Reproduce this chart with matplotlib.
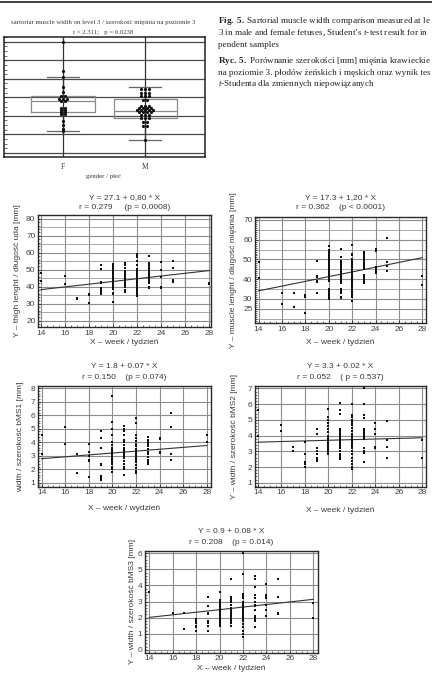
import numpy as np
import matplotlib
matplotlib.use("Agg")
import matplotlib.pyplot as plt
from matplotlib.ticker import MultipleLocator
from matplotlib.lines import Line2D

# ---------------- data ----------------
weeks = [14, 16, 17, 18, 19, 20, 21, 22, 23, 24, 25, 28]

thigh_by_week = [
    [48, 43.5],
    [46.5, 41.5],
    [33.5, 33, 32.5],
    [36, 35.5, 35, 30.5],
    [53, 50.5, 43, 42, 39, 38, 37, 36],
    [53.5, 52.5, 51.5, 50.5, 49.5, 48.5, 47.5, 46.5, 45.5, 44.5, 43.5, 42.5, 41.5, 40.5, 39.5, 38.5, 36.5, 35.5, 31],
    [54, 52.5, 51, 49.5, 48, 47, 46, 45, 44, 43, 42.5, 42, 41, 40, 38, 37],
    [59.5, 58.5, 57.5, 55, 52.5, 50.5, 49.5, 48.5, 47.5, 46.5, 45.5, 44.5, 43.5, 42.5, 41.5, 40.5, 39.5, 38.5, 37.5, 36.5, 35.5, 34.5],
    [58, 54, 53, 52, 51, 50, 49, 48, 47, 46, 45, 44, 43, 42, 40, 39],
    [54.5, 50, 45.5, 40, 39],
    [55, 51, 44, 43],
    [42, 41.5],
]
muscle_by_week = [
    [48.5, 40.5],
    [33, 27.5],
    [33, 26],
    [32, 31.5, 31, 23],
    [49, 41.5, 41, 39, 38.5, 33],
    [57, 55, 54, 53, 52, 51, 50, 49, 48, 47, 46, 45, 44, 43, 42, 41, 40, 39, 35, 34, 33, 32, 31, 30],
    [55.5, 51, 49, 48, 47, 46, 45, 44, 43, 42, 41, 40, 39, 38, 35, 34, 33, 31, 30.5],
    [57.5, 53, 52, 50, 49, 48, 47, 46, 45, 44, 43, 42, 41, 40, 39, 38, 37, 36, 35, 34, 33, 32, 31, 29],
    [54, 53, 52, 51, 50, 49, 48, 47, 46, 45, 42, 41, 40, 39, 38],
    [55.5, 55, 54.5, 46, 45, 44, 43],
    [61, 48.5, 46.5, 44],
    [41.5, 37],
]
bms1_by_week = [
    [4.5, 3.1],
    [5.1, 3.9],
    [3.1, 1.7],
    [3.9, 3.3, 3.0, 2.7, 2.6, 1.4],
    [4.8, 4.3, 3.6, 2.4, 2.3, 1.5, 1.4, 1.3, 1.2],
    [7.4, 5.5, 5.0, 4.5, 4.0, 3.8, 3.6, 3.4, 3.3, 3.2, 3.1, 3.0, 2.9, 2.8, 2.7, 2.6, 2.5, 2.4, 2.2, 2.0, 1.8],
    [5.2, 5.0, 4.8, 4.5, 4.2, 4.0, 3.8, 3.6, 3.4, 3.3, 3.2, 3.1, 3.0, 2.9, 2.8, 2.6, 2.4, 2.2, 2.0, 1.6],
    [5.8, 5.4, 4.5, 4.3, 4.1, 3.9, 3.7, 3.5, 3.4, 3.3, 3.2, 3.1, 3.0, 2.9, 2.8, 2.7, 2.6, 2.5, 2.3, 2.1, 1.9, 1.7],
    [4.4, 4.2, 4.0, 3.9, 3.7, 3.5, 3.3, 3.1, 2.9, 2.7, 2.5, 2.4],
    [4.35, 4.25, 3.3, 3.2],
    [6.2, 5.1, 3.1, 2.7],
    [4.5, 4.0],
]
bms2_by_week = [
    [5.6, 4.0],
    [4.7, 4.3],
    [3.3, 3.0],
    [3.6, 2.8, 2.3, 2.2, 2.0],
    [4.4, 4.1, 3.2, 3.0, 2.8, 2.6, 2.5, 2.4],
    [5.7, 5.2, 5.0, 4.8, 4.6, 4.4, 4.2, 4.0, 3.9, 3.8, 3.7, 3.6, 3.5, 3.4, 3.3, 3.2, 3.1, 3.0, 2.9, 2.8],
    [6.1, 5.6, 5.4, 4.4, 4.3, 4.2, 4.1, 4.0, 3.9, 3.8, 3.7, 3.6, 3.5, 3.4, 3.3, 3.2, 3.0, 2.8, 2.7, 2.6, 2.5],
    [6.0, 5.3, 5.2, 5.0, 4.9, 4.8, 4.7, 4.5, 4.3, 4.1, 4.0, 3.9, 3.8, 3.7, 3.6, 3.5, 3.4, 3.3, 3.2, 3.0, 2.8, 2.6, 2.4, 2.2, 2.0, 1.9],
    [7.0, 6.0, 5.3, 5.1, 4.4, 4.3, 4.2, 4.1, 4.0, 3.9, 3.8, 3.2, 3.0, 2.9, 2.3],
    [4.8, 4.4, 4.1, 3.3, 3.2],
    [4.9, 3.7, 3.3, 2.6],
    [3.7, 2.6],
]
bms3_by_week = [
    [3.6],
    [2.3],
    [2.3, 1.3],
    [1.9, 1.8, 1.7, 1.5, 1.4, 1.2],
    [3.3, 2.7, 2.3, 2.2, 1.8, 1.7, 1.5, 1.2],
    [3.6, 3.1, 3.0, 2.9, 2.8, 2.7, 2.6, 2.5, 2.4, 2.3, 2.2, 2.1, 2.0, 1.9, 1.8, 1.7, 1.6, 1.5],
    [4.4, 3.3, 3.2, 3.1, 3.0, 2.8, 2.6, 2.5, 2.4, 2.3, 2.2, 2.1, 2.0, 1.9, 1.8, 1.7, 1.5],
    [6.0, 4.7, 3.5, 3.4, 3.3, 3.2, 3.0, 2.9, 2.8, 2.7, 2.6, 2.5, 2.4, 2.3, 2.2, 2.1, 2.0, 1.9, 1.8, 1.6, 1.4, 1.2, 1.0, 0.8],
    [4.6, 4.4, 3.9, 3.4, 3.2, 3.0, 2.8, 2.7, 2.5, 2.1, 2.0, 1.9, 1.8, 1.4],
    [4.1, 3.4, 3.3, 3.2, 2.8, 2.5, 2.1],
    [4.4, 3.3, 2.3, 2.2],
    [2.9, 2.0],
]

# regression coefficients (intercept, slope) as printed
reg_thigh = (27.1, 0.80)
reg_muscle = (17.3, 1.20)
reg_bms1 = (1.8, 0.07)
reg_bms2 = (3.3, 0.02)
reg_bms3 = (0.9, 0.08)

titles_thigh = ["Y = 27.1 + 0,80 * X", "r = 0.279     (p = 0.0008)"]
titles_muscle = ["Y = 17.3 + 1,20 * X", "r = 0.362    (p < 0.0001)"]
titles_bms1 = ["Y = 1.8 + 0.07 * X", "r = 0.150    (p = 0.074)"]
titles_bms2 = ["Y = 3.3 + 0.02 * X", "r = 0.052    ( p = 0.537)"]
titles_bms3 = ["Y = 0.9 + 0.08 * X", "r = 0.208    (p = 0.014)"]

# boxplot panel (gender)
gender_labels = ["F", "M"]
F_vals = [7.0, 5.4, 5.1, 4.55, 4.3, 4.05, 3.92, 3.78, 3.42, 3.3, 3.2, 3.1, 2.7, 2.5, 2.3, 2.15]
F_counts = [1, 1, 1, 1, 1, 2, 3, 2, 2, 2, 2, 2, 1, 1, 1, 1]
M_vals = [4.45, 4.25, 4.05, 3.85, 3.55, 3.42, 3.3, 3.18, 3.05, 2.88, 2.65, 2.45, 1.67]
M_counts = [3, 3, 3, 2, 3, 4, 5, 4, 3, 3, 2, 2, 1]
F_box = dict(q1=3.2, med=3.81, q3=4.06, whislo=2.2, whishi=5.1)
M_box = dict(q1=2.87, med=3.27, q3=3.88, whislo=1.67, whishi=4.57)

# caption lines (the page crop cuts them at the right edge)
cap_lines = [
    r"$\mathbf{Fig.\ 5.}$ Sartorial muscle width comparison measured at level",
    r"3 in male and female fetuses, Student’s $t$-test result for inde-",
    "pendent samples",
    r"$\mathbf{Ryc.\ 5.}$ Porównanie szerokości [mm] mięśnia krawieckiego",
    "na poziomie 3. płodów żeńskich i męskich oraz wynik testu",
    r"$t$-Studenta dla zmiennych niepowiązanych",
]

# ---------------- figure ----------------
W, H = 432, 673
plt.rcParams["mathtext.fontset"] = "custom"
plt.rcParams["mathtext.rm"] = "Liberation Serif"
plt.rcParams["mathtext.it"] = "Liberation Serif:italic"
plt.rcParams["mathtext.bf"] = "Liberation Serif:bold"
SANS = ["Liberation Sans", "DejaVu Sans"]
SERIF = ["Liberation Serif", "DejaVu Serif"]
TXT = "#3a3a3a"

fig = plt.figure(figsize=(W / 100, H / 100), dpi=100)
renderer = fig.canvas.get_renderer()


def px_axes(x0, y0, x1, y1):
    return fig.add_axes([x0 / W, 1 - y1 / H, (x1 - x0) / W, (y1 - y0) / H])


def ftext(x, y, s, **kw):
    return fig.text(x / W, 1 - y / H, s, **kw)


# page rule
fig.add_artist(Line2D([0, 1], [1 - 2 / H] * 2, color="#333333", lw=1.3))

# ---------------- caption ----------------
cap_y = [20.7, 32.7, 44.0, 60.3, 72.0, 83.7]
for y, s in zip(cap_y, cap_lines):
    t = ftext(218, y + 2.6, s, family=SERIF, fontsize=6.6, color="#222222", va="baseline", ha="left")
    # the reference page is cropped at the right edge: keep only what fits
    while t.get_window_extent(renderer).x1 > W - 0.5 and not s.endswith("$"):
        s = s[:-1].rstrip()
        t.set_text(s)

# ---------------- boxplot panel ----------------
axb = px_axes(4, 37, 205, 157)
axb.set_xlim(0.28, 2.73)
axb.set_ylim(0.77, 7.26)
for v in range(1, 8):
    axb.axhline(v, color="#4a4a4a", lw=0.9, zorder=1)
for xpos in (1, 2):
    axb.axvline(xpos, color="#333333", lw=0.9, zorder=1)
stats = []
for lab, b in zip(gender_labels, (F_box, M_box)):
    d = dict(b)
    d["label"] = lab
    d["fliers"] = []
    stats.append(d)
axb.bxp(stats, positions=[1, 2], widths=0.77, capwidths=0.39, showfliers=False,
        boxprops=dict(color="#8a8a8a", lw=0.9), medianprops=dict(color="#8a8a8a", lw=0.9),
        whiskerprops=dict(color="#333333", lw=0.9), capprops=dict(color="#666666", lw=0.9),
        manage_ticks=False, zorder=2)
for xpos, vals, counts in ((1, F_vals, F_counts), (2, M_vals, M_counts)):
    for v, n in zip(vals, counts):
        offs = (np.arange(n) - (n - 1) / 2) * 0.05
        axb.plot(xpos + offs, [v] * n, "o", ms=2.3, color="#111111", mew=0, zorder=3)
axb.set_xticks([1, 2])
axb.set_xticklabels(gender_labels, family=SERIF, fontsize=5.5, color=TXT)
axb.tick_params(axis="x", length=0, pad=4)
axb.yaxis.set_major_locator(MultipleLocator(1))
axb.yaxis.set_minor_locator(MultipleLocator(0.25))
axb.tick_params(axis="y", which="both", direction="in", left=True, labelleft=False, color="#333333")
axb.tick_params(axis="y", which="major", length=2.5, width=0.6)
axb.tick_params(axis="y", which="minor", length=2.0, width=0.5)
for sp in axb.spines.values():
    sp.set_color("#222222")
    sp.set_linewidth(1.1)
ftext(103, 22.7, "sartoriar muscle width on level 3 / szerokość mięśnia na poziomie 3",
      family=SERIF, fontsize=4.9, color=TXT, ha="center", va="center")
ftext(103, 32.3, "t = 2.311;   p = 0.0238", family=SERIF, fontsize=4.9, color=TXT, ha="center", va="center")
ftext(103, 176.5, "gender / płeć", family=SERIF, fontsize=4.9, color=TXT, ha="center", va="center")


# ---------------- scatter panels ----------------
def scatter_panel(box, groups, reg, titles, ylabel, xlabel, ylim, yticks, yminor,
                  xlim, ylab_x, title_y, xlab_y, grid5=None):
    x0, y0, x1, y1 = box
    ax = px_axes(x0, y0, x1, y1)
    xs = np.concatenate([[w] * len(g) for w, g in zip(weeks, groups)])
    ys = np.concatenate([np.asarray(g, float) for g in groups])
    ax.plot(xs, ys, "s", ms=1.45, color="#111111", mew=0, zorder=3)
    xx = np.array([min(weeks), max(weeks)], float)
    ax.plot(xx, reg[0] + reg[1] * xx, color="#333333", lw=0.8, zorder=2)
    ax.set_xlim(*xlim)
    ax.set_ylim(*ylim)
    ax.set_xticks(range(14, 29, 2))
    ax.set_yticks(yticks)
    ax.xaxis.set_minor_locator(MultipleLocator(0.5))
    ax.yaxis.set_minor_locator(MultipleLocator(yminor))
    ax.grid(True, which="major", color="#8c8c8c", lw=0.8, zorder=0)
    if grid5 is not None:
        lo, hi = ylim
        for v in np.arange(np.ceil(lo / grid5) * grid5, hi, grid5):
            ax.axhline(v, color="#a8a8a8", lw=0.7, zorder=0)
    ax.set_axisbelow(True)
    ax.tick_params(which="both", direction="in", top=False, right=False, color="#333333")
    ax.tick_params(which="major", length=2.5, width=0.6, labelsize=6, labelcolor="#444444", pad=1.8)
    ax.tick_params(which="minor", length=1.5, width=0.5)
    for lab in ax.get_xticklabels() + ax.get_yticklabels():
        lab.set_family(SANS)
    for sp in ax.spines.values():
        sp.set_color("#2a2a2a")
        sp.set_linewidth(1.0)
    cx = (x0 + x1) / 2
    ftext(cx, title_y[0], titles[0], family=SANS, fontsize=6, color=TXT, ha="center", va="center")
    ftext(cx, title_y[1], titles[1], family=SANS, fontsize=6, color=TXT, ha="center", va="center")
    ftext(cx, xlab_y, xlabel, family=SANS, fontsize=6, color=TXT, ha="center", va="center")
    ftext(ylab_x, (y0 + y1) / 2, ylabel, family=SANS, fontsize=6, color=TXT,
          ha="center", va="center", rotation=90)
    return ax


scatter_panel((38, 215, 211, 327), thigh_by_week, reg_thigh, titles_thigh,
              "Y – thigh lenght / długość uda [mm]", "X – week / tydzień",
              (16.3, 82.2), [20, 30, 40, 50, 60, 70, 80], 2, (13.75, 28.15),
              18, (197.5, 207.5), 342.7, grid5=5)
scatter_panel((255, 217, 426, 323), muscle_by_week, reg_muscle, titles_muscle,
              "Y – muscle lenght / długość mięśnia [mm]", "X – week / tydzień",
              (17.8, 71.5), [25, 30, 40, 50, 60, 70], 1, (13.7, 28.3),
              234, (197.5, 207.5), 342.7, grid5=5)
scatter_panel((38, 386, 211, 487), bms1_by_week, reg_bms1, titles_bms1,
              "width / szerokość bMS1 [mm]", "X – week / wydzień",
              (0.68, 8.17), [1, 2, 3, 4, 5, 6, 7, 8], 0.2, (13.69, 28.35),
              21, (366.7, 377.3), 509)
scatter_panel((255, 386, 426, 487), bms2_by_week, reg_bms2, titles_bms2,
              "Y – width / szerokość bMS2 [mm]", "X – week / tydzień",
              (0.73, 7.15), [1, 2, 3, 4, 5, 6, 7], 0.2, (13.75, 28.3),
              235, (366.7, 377.3), 510)
scatter_panel((145, 551, 318, 653), bms3_by_week, reg_bms3, titles_bms3,
              "Y – width / szerokość bMS3 [mm]", "X – week / tydzień",
              (-0.19, 6.14), [0, 1, 2, 3, 4, 5, 6], 0.2, (13.63, 28.4),
              132, (531.7, 542.7), 668.5)

fig.savefig("out.png", dpi=100)
